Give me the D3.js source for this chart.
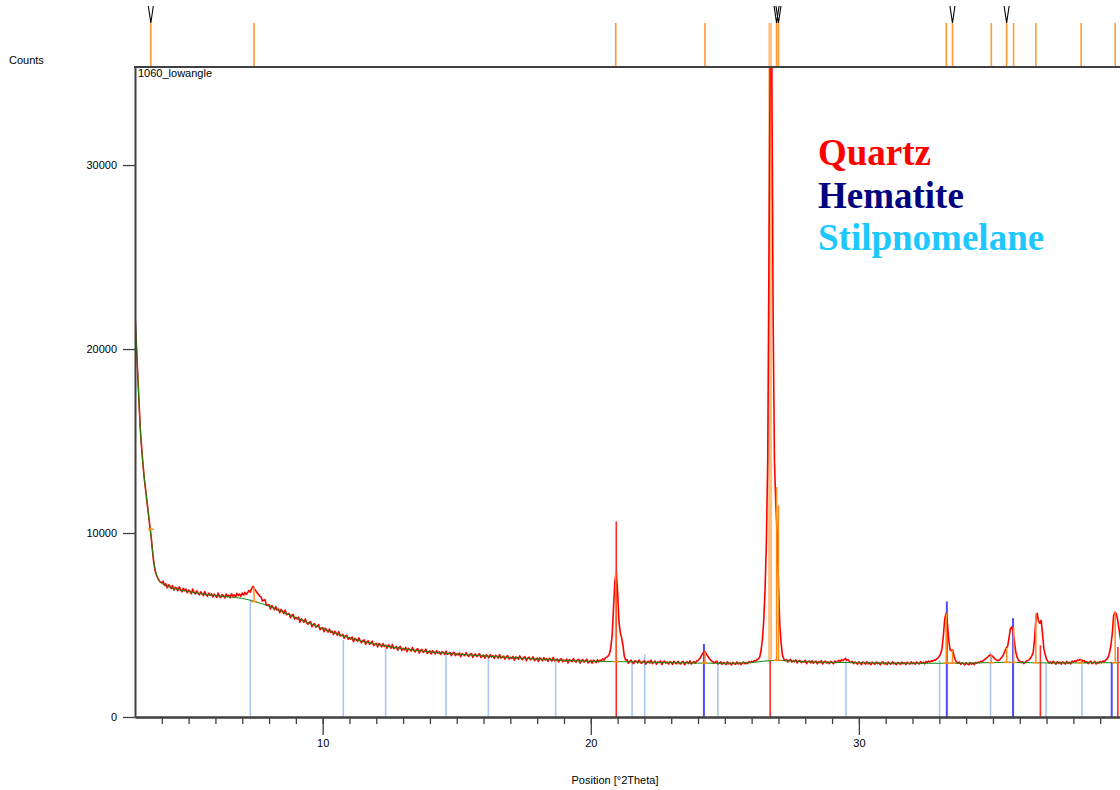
<!DOCTYPE html>
<html>
<head>
<meta charset="utf-8">
<script src="https://cdnjs.cloudflare.com/ajax/libs/d3/7.8.5/d3.min.js"></script>
<style>
html, body { margin: 0; padding: 0; background: #fff; }
svg { display: block; }
</style>
</head>
<body>
<div id="chart"></div>
<script>
// observed scan [°2Theta, counts]
const obsPattern = [
  [3.00,21900],[3.05,20300],[3.10,18700],[3.15,17100],[3.20,15600],[3.25,14600],[3.30,13700],[3.35,12900],
  [3.40,12300],[3.45,11650],[3.50,11050],[3.55,10400],[3.60,9850],[3.65,9050],[3.70,8400],[3.75,7950],
  [3.80,7720],[3.85,7540],[3.90,7420],[3.95,7330],
  [4.00,7300],[4.05,7380],[4.10,7150],[4.15,7240],[4.20,7020],[4.25,7190],[4.30,7110],[4.35,6980],
  [4.40,7140],[4.45,6900],[4.50,7050],[4.55,7010],[4.60,6860],[4.65,7080],[4.70,6920],[4.75,6800],
  [4.80,6990],[4.85,6870],[4.90,6950],[4.95,6760],[5.00,6900],[5.05,6830],[5.10,6700],[5.15,6950],
  [5.20,6780],[5.25,6690],[5.30,6860],[5.35,6730],[5.40,6640],[5.45,6810],[5.50,6700],[5.55,6600],
  [5.60,6820],[5.65,6660],[5.70,6560],[5.75,6730],[5.80,6620],[5.85,6700],[5.90,6520],[5.95,6680],
  [6.00,6590],[6.05,6500],[6.10,6740],[6.15,6560],[6.20,6490],[6.25,6650],[6.30,6580],[6.35,6470],
  [6.40,6680],[6.45,6540],[6.50,6620],[6.55,6480],[6.60,6700],[6.65,6560],[6.70,6640],[6.75,6520],
  [6.80,6720],[6.85,6600],[6.90,6680],[6.95,6560],[7.00,6740],[7.05,6620],[7.10,6780],[7.15,6660],
  [7.20,6760],[7.25,6880],[7.30,6780],[7.35,6980],[7.40,7100],[7.45,6960],[7.50,6880],[7.55,6760],
  [7.60,6680],[7.65,6560],[7.70,6540],[7.75,6310],[7.80,6340],[7.85,6380],[7.90,6070],[7.95,6090],
  [8.00,6110],[8.05,5870],[8.10,6060],[8.15,5960],[8.20,5830],[8.25,6005],[8.30,5810],[8.35,5870],
  [8.40,5670],[8.45,5850],[8.50,5750],[8.55,5610],[8.60,5815],[8.65,5565],[8.70,5580],[8.75,5630],
  [8.80,5400],[8.85,5535],[8.90,5575],[8.95,5330],[9.00,5420],[9.05,5320],[9.10,5430],[9.15,5150],
  [9.20,5340],[9.25,5250],[9.30,5150],[9.35,5330],[9.40,5140],[9.45,5040],[9.50,5150],[9.55,5170],
  [9.60,4900],[9.65,5040],[9.70,5070],[9.75,4880],[9.80,4940],[9.85,5020],[9.90,4750],[9.95,4800],
  [10.00,4860],[10.05,4630],[10.10,4830],[10.15,4730],[10.20,4610],[10.25,4780],[10.30,4600],[10.35,4670],
  [10.40,4480],[10.45,4660],[10.50,4570],[10.55,4440],[10.60,4640],[10.65,4410],[10.70,4430],[10.75,4490],
  [10.80,4280],[10.85,4410],[10.90,4450],[10.95,4220],[11.00,4320],[11.05,4230],[11.10,4350],[11.15,4090],
  [11.20,4280],[11.25,4205],[11.30,4120],[11.35,4300],[11.40,4130],[11.45,4040],[11.50,4160],[11.55,4190],
  [11.60,3950],[11.65,4090],[11.70,4135],[11.75,3960],[11.80,4030],[11.85,4120],[11.90,3880],[11.95,3940],
  [12.00,4010],[12.05,3810],[12.10,4000],[12.15,3920],[12.20,3810],[12.25,3995],[12.30,3830],[12.35,3910],
  [12.40,3735],[12.45,3920],[12.50,3850],[12.55,3730],[12.60,3940],[12.65,3725],[12.70,3765],[12.75,3835],
  [12.80,3635],[12.85,3785],[12.90,3830],[12.95,3620],[13.00,3730],[13.05,3650],[13.10,3780],[13.15,3545],
  [13.20,3735],[13.25,3665],[13.30,3585],[13.35,3775],[13.40,3620],[13.45,3540],[13.50,3670],[13.55,3710],
  [13.60,3475],[13.65,3625],[13.70,3680],[13.75,3510],[13.80,3590],[13.85,3685],[13.90,3455],[13.95,3520],
  [14.00,3600],[14.05,3425],[14.10,3595],[14.15,3530],[14.20,3435],[14.25,3600],[14.30,3465],[14.35,3540],
  [14.40,3395],[14.45,3560],[14.50,3500],[14.55,3400],[14.60,3585],[14.65,3410],[14.70,3445],[14.75,3510],
  [14.80,3330],[14.85,3470],[14.90,3520],[14.95,3340],[15.00,3435],[15.05,3370],[15.10,3485],[15.15,3275],
  [15.20,3450],[15.25,3395],[15.30,3330],[15.35,3505],[15.40,3365],[15.45,3300],[15.50,3415],[15.55,3450],
  [15.60,3240],[15.65,3380],[15.70,3425],[15.75,3285],[15.80,3355],[15.85,3445],[15.90,3235],[15.95,3300],
  [16.00,3370],[16.05,3195],[16.10,3380],[16.15,3315],[16.20,3225],[16.25,3390],[16.30,3260],[16.35,3335],
  [16.40,3190],[16.45,3355],[16.50,3300],[16.55,3200],[16.60,3395],[16.65,3210],[16.70,3245],[16.75,3315],
  [16.80,3145],[16.85,3280],[16.90,3330],[16.95,3150],[17.00,3245],[17.05,3180],[17.10,3295],[17.15,3085],
  [17.20,3265],[17.25,3210],[17.30,3145],[17.35,3320],[17.40,3185],[17.45,3120],[17.50,3235],[17.55,3270],
  [17.60,3060],[17.65,3205],[17.70,3250],[17.75,3110],[17.80,3180],[17.85,3270],[17.90,3065],[17.95,3130],
  [18.00,3200],[18.05,3025],[18.10,3215],[18.15,3150],[18.20,3060],[18.25,3225],[18.30,3095],[18.35,3170],
  [18.40,3025],[18.45,3195],[18.50,3140],[18.55,3040],[18.60,3240],[18.65,3055],[18.70,3090],[18.75,3155],
  [18.80,2990],[18.85,3125],[18.90,3175],[18.95,3000],[19.00,3095],[19.05,3030],[19.10,3150],[19.15,2940],
  [19.20,3120],[19.25,3065],[19.30,3005],[19.35,3180],[19.40,3045],[19.45,2980],[19.50,3100],[19.55,3135],
  [19.60,2930],[19.65,3070],[19.70,3120],[19.75,2980],[19.80,3055],[19.85,3145],[19.90,2940],[19.95,3010],
  [20.00,3080],[20.05,2920],[20.10,3095],[20.15,3035],[20.20,2950],[20.25,3115],[20.30,3000],[20.35,3085],
  [20.40,3080],[20.45,3160],[20.50,3090],[20.55,3230],[20.60,3250],[20.65,3320],[20.70,3450],[20.75,3800],
  [20.80,4500],[20.85,6000],[20.90,7400],[20.95,7900],[21.00,6800],[21.05,5200],[21.10,4600],[21.15,4300],
  [21.20,3900],[21.25,3300],[21.30,3100],[21.35,3120],[21.40,2925],[21.45,3015],[21.50,3090],[21.55,2965],
  [21.60,2905],[21.65,3065],[21.70,3020],[21.75,2940],[21.80,3100],[21.85,2965],[21.90,2920],[21.95,3020],
  [22.00,3060],[22.05,2870],[22.10,2990],[22.15,3030],[22.20,2930],[22.25,3090],[22.30,2900],[22.35,2970],
  [22.40,3040],[22.45,2870],[22.50,3000],[22.55,2955],[22.60,3050],[22.65,2850],[22.70,2990],[22.75,3040],
  [22.80,2930],[22.85,2990],[22.90,2880],[22.95,3010],[23.00,2975],[23.05,2860],[23.10,3035],[23.15,2950],
  [23.20,2890],[23.25,3030],[23.30,2920],[23.35,2880],[23.40,2990],[23.45,3020],[23.50,2840],[23.55,2960],
  [23.60,3000],[23.65,2900],[23.70,3050],[23.75,2880],[23.80,2960],[23.85,3010],[23.90,2930],[23.95,3040],
  [24.00,3080],[24.05,3150],[24.10,3260],[24.15,3400],[24.20,3500],[24.25,3560],[24.30,3460],[24.35,3330],
  [24.40,3220],[24.45,3130],[24.50,3050],[24.55,3010],[24.60,2930],[24.65,2990],[24.70,3040],[24.75,2880],
  [24.80,2950],[24.85,3000],[24.90,2860],[24.95,2960],[25.00,2920],[25.05,2850],[25.10,3010],[25.15,2890],
  [25.20,2940],[25.25,2830],[25.30,2970],[25.35,2900],[25.40,2860],[25.45,2990],[25.50,2880],[25.55,2950],
  [25.60,2850],[25.65,2930],[25.70,2990],[25.75,2890],[25.80,2960],[25.85,2900],[25.90,3010],[25.95,2950],
  [26.00,3020],[26.05,2980],[26.10,3070],[26.15,3040],[26.20,3110],[26.25,3160],[26.30,3250],[26.35,3600],
  [26.40,4200],[26.45,5200],[26.50,6900],[26.55,9500],[26.60,14000],[26.65,26000],[26.70,38000],[26.75,36000],
  [26.80,22000],[26.85,14000],[26.90,11600],[26.95,10000],[27.00,7200],[27.05,5000],[27.10,4000],[27.15,3350],
  [27.20,3150],[27.25,3060],[27.30,3120],[27.35,2990],[27.40,3080],[27.45,3130],[27.50,2980],[27.55,3060],
  [27.60,3010],[27.65,3110],[27.70,2940],[27.75,3050],[27.80,3080],[27.85,2950],[27.90,3020],[27.95,2980],
  [28.00,3090],[28.05,2900],[28.10,3010],[28.15,3050],[28.20,2940],[28.25,3060],[28.30,2920],[28.35,2990],
  [28.40,3040],[28.45,2890],[28.50,3000],[28.55,2960],[28.60,3060],[28.65,2880],[28.70,2990],[28.75,3040],
  [28.80,2930],[28.85,2990],[28.90,2900],[28.95,3020],[29.00,2980],[29.05,2890],[29.10,3040],[29.15,2970],
  [29.20,3010],[29.25,3080],[29.30,3020],[29.35,3110],[29.40,3060],[29.45,3140],[29.50,3170],[29.55,3080],
  [29.60,3120],[29.65,3010],[29.70,2960],[29.75,3030],[29.80,2900],[29.85,2990],[29.90,2940],[29.95,2870],
  [30.00,3000],[30.05,2920],[30.10,2850],[30.15,2990],[30.20,2940],[30.25,2870],[30.30,3010],[30.35,2890],
  [30.40,2950],[30.45,2840],[30.50,2980],[30.55,2910],[30.60,2860],[30.65,2990],[30.70,2900],[30.75,2950],
  [30.80,2830],[30.85,2960],[30.90,3000],[30.95,2880],[31.00,2940],[31.05,2850],[31.10,2990],[31.15,2910],
  [31.20,2870],[31.25,3000],[31.30,2890],[31.35,2940],[31.40,2840],[31.45,2970],[31.50,2930],[31.55,2860],
  [31.60,2990],[31.65,2900],[31.70,2950],[31.75,2850],[31.80,2980],[31.85,2920],[31.90,2870],[31.95,3000],
  [32.00,2900],[32.05,2960],[32.10,2860],[32.15,2990],[32.20,2930],[32.25,2880],[32.30,3010],[32.35,2920],
  [32.40,2970],[32.45,2890],[32.50,3020],[32.55,2960],[32.60,3040],[32.65,2990],[32.70,3060],[32.75,3030],
  [32.80,3100],[32.85,3080],[32.90,3160],[32.95,3220],[33.00,3300],[33.05,3450],[33.10,3700],[33.15,4400],
  [33.20,5300],[33.25,5640],[33.30,5100],[33.35,4200],[33.40,3650],[33.45,3600],[33.50,3650],[33.55,3300],
  [33.60,3080],[33.65,2980],[33.70,2920],[33.75,2980],[33.80,2860],[33.85,2950],[33.90,2900],[33.95,2830],
  [34.00,2950],[34.05,2880],[34.10,2840],[34.15,2960],[34.20,2870],[34.25,2930],[34.30,2850],[34.35,2970],
  [34.40,2920],[34.45,2990],[34.50,2950],[34.55,3030],[34.60,3000],[34.65,3080],[34.70,3130],[34.75,3200],
  [34.80,3260],[34.85,3330],[34.90,3370],[34.95,3340],[35.00,3280],[35.05,3200],[35.10,3130],[35.15,3080],
  [35.20,3060],[35.25,3110],[35.30,3190],[35.35,3280],[35.40,3420],[35.45,3600],[35.50,3750],[35.55,3850],
  [35.60,4300],[35.65,4800],[35.70,4900],[35.75,4700],[35.80,4100],[35.85,3550],[35.90,3250],[35.95,3100],
  [36.00,3020],[36.05,2950],[36.10,3010],[36.15,2900],[36.20,2980],[36.25,3040],[36.30,3080],[36.35,3120],
  [36.40,3200],[36.45,3320],[36.50,3500],[36.55,4200],[36.60,5300],[36.65,5640],[36.70,5200],[36.75,5100],
  [36.80,5250],[36.85,4500],[36.90,3700],[36.95,3400],[37.00,3150],[37.05,3020],[37.10,2930],[37.15,3000],
  [37.20,2900],[37.25,3030],[37.30,2960],[37.35,2870],[37.40,3010],[37.45,2920],[37.50,2980],[37.55,2870],
  [37.60,3000],[37.65,2940],[37.70,2880],[37.75,3020],[37.80,2920],[37.85,2980],[37.90,2890],[37.95,3040],
  [38.00,2980],[38.05,3060],[38.10,3020],[38.15,3100],[38.20,3080],[38.25,3130],[38.30,3110],[38.35,3040],
  [38.40,3070],[38.45,2960],[38.50,3010],[38.55,2900],[38.60,2990],[38.65,3030],[38.70,2900],[38.75,2960],
  [38.80,3020],[38.85,2880],[38.90,2980],[38.95,2930],[39.00,3010],[39.05,2950],[39.10,3040],[39.15,3010],
  [39.20,3080],[39.25,3150],[39.30,3260],[39.35,3500],[39.40,3900],[39.45,4500],[39.50,5500],[39.55,5700],
  [39.60,5600],[39.65,5300],[39.70,4800],[39.75,4300],[39.80,3900],[39.85,3600],[39.90,3400],[40.00,3200]
];

// fitted background
const backgroundCurve = [
  [3.0,22000],[3.1,18700],[3.2,15600],[3.3,13700],[3.4,12300],[3.5,11050],[3.6,9800],[3.7,8450],
  [3.8,7750],[3.9,7420],[4.0,7270],[4.25,7080],[4.5,6960],[5.0,6820],[5.5,6690],[6.0,6600],[6.5,6530],
  [7.0,6450],[7.5,6260],[8.0,6020],[8.5,5720],[9.0,5400],[9.5,5100],[10.0,4800],[10.5,4540],[11.0,4300],
  [11.5,4110],[12.0,3950],[12.5,3820],[13.0,3710],[14.0,3540],[15.0,3420],[16.0,3320],[17.0,3230],
  [18.0,3150],[19.0,3080],[20.0,3030],[21.0,3010],[22.0,2980],[23.0,2950],[24.0,2930],[25.0,2920],
  [26.0,2960],[26.5,3040],[27.0,3080],[27.5,3040],[28.0,3000],[29.0,2970],[30.0,2950],[31.0,2930],
  [32.0,2920],[33.0,2920],[34.0,2930],[35.0,2960],[35.5,2975],[36.0,2960],[37.0,2940],[38.0,2940],
  [39.0,2950],[40.0,2950]
];

// peak list
const peakPositions = [3.59, 7.44, 20.93, 24.26, 26.69, 26.93, 27.00, 33.26, 33.49, 34.94, 35.51, 35.77, 36.60, 38.29, 39.56];
const peakTops      = [10300, 7050, 7900, 3550, 36000, 12500, 11500, 5640, 3650, 3370, 3750, 4900, 5640, 3120, 5700];
const peakBases     = [10200, 6270, 3010, 2930, 3050, 3080, 3080, 2920, 2920, 2950, 2970, 2970, 2955, 2940, 2950];
const peakMarked    = [true, false, false, false, false, true, true, false, true, false, true, false, false, false, false];

// reference patterns [°2Theta, counts]
const quartzSticks = [[20.95, 10630], [26.69, 50000], [36.77, 3900], [39.66, 3800]];
const hematiteSticks = [[24.22, 3974], [33.28, 6276], [35.75, 5373], [39.43, 3000]];
const stilpnomelaneSticks = [
  [7.30, 6400], [10.77, 4190], [12.35, 3740], [14.60, 3470], [16.18, 3320], [18.69, 3140], [21.54, 2940],
  [22.01, 3413], [24.74, 2940], [29.52, 3270], [33.01, 3100], [34.91, 3555], [36.98, 2940], [38.32, 3010]
];

const xMajorTicks = [10, 20, 30];
const xMinorTicks = d3.range(4, 40);
const yTicks = [0, 10000, 20000, 30000];
const legendNames = ["Quartz", "Hematite", "Stilpnomelane"];
const legendColors = ["#ff0000", "#000080", "#1ec8ff"];

const width = 1120, height = 790;
const plot = {left: 135, top: 67, bottom: 717, right: 1127};
const axisColor = "#404040";
const mainPeak = 4;

const x = d3.scaleLinear().domain([3, 40]).range([plot.left, plot.right]);
const y = d3.scaleLinear().domain([0, 35330]).range([plot.bottom, plot.top]);

const svg = d3.select("#chart").append("svg")
    .attr("width", width)
    .attr("height", height)
    .style("font-family", "'Liberation Sans', Arial, sans-serif");

svg.append("defs").append("clipPath")
    .attr("id", "plotClip")
  .append("rect")
    .attr("x", plot.left)
    .attr("y", plot.top)
    .attr("width", plot.right - plot.left)
    .attr("height", plot.bottom - plot.top);

let g = svg.append("g").attr("clip-path", "url(#plotClip)");

function drawSticks(data, color, w) {
    g.append("g").selectAll("line")
        .data(data)
      .enter().append("line")
        .attr("x1", d => x(d[0]))
        .attr("x2", d => x(d[0]))
        .attr("y1", y(0))
        .attr("y2", d => y(d[1]))
        .style("stroke", color)
        .style("stroke-width", w);
}
drawSticks(stilpnomelaneSticks, "#a9c7f2", 1.6);
drawSticks(hematiteSticks, "#4b4bff", 2);
drawSticks(quartzSticks, "#ff2a2a", 1.6);

let peaks = peakPositions.map((p, i) => ({pos: p, top: peakTops[i], base: peakBases[i], i: i}));

// wide marker of the main reflection sits under the scan
g.append("line")
    .attr("x1", x(peaks[mainPeak].pos))
    .attr("x2", x(peaks[mainPeak].pos))
    .attr("y1", y(peaks[mainPeak].base))
    .attr("y2", y(peaks[mainPeak].top))
    .style("stroke", "#ffc080")
    .style("stroke-width", 4);

let line = d3.line().x(d => x(d[0])).y(d => y(d[1]));

g.append("path")
    .datum(obsPattern)
    .attr("d", line)
    .style("fill", "none")
    .style("stroke", "#ff0000")
    .style("stroke-width", 1.6)
    .style("stroke-linejoin", "round");

g.append("path")
    .datum(backgroundCurve)
    .attr("d", line.curve(d3.curveMonotoneX))
    .style("fill", "none")
    .style("stroke", "#138a13")
    .style("stroke-width", 1);

// other peak markers inside the plot
let markers = g.append("g").selectAll("g")
    .data(peaks.filter(d => d.i !== mainPeak))
  .enter().append("g");

markers.append("line")
    .attr("x1", d => x(d.pos))
    .attr("x2", d => x(d.pos))
    .attr("y1", d => y(d.base))
    .attr("y2", d => y(d.top))
    .style("stroke", "#ff8c1a")
    .style("stroke-width", 1.5);

markers.append("line")
    .attr("x1", d => x(d.pos) - 3)
    .attr("x2", d => x(d.pos) + 3)
    .attr("y1", d => y(d.base))
    .attr("y2", d => y(d.base))
    .style("stroke", "#ff8c1a")
    .style("stroke-width", 1.5);

// peak list strip above the plot
let strip = svg.append("g");
strip.selectAll("line")
    .data(peakPositions)
  .enter().append("line")
    .attr("x1", d => x(d))
    .attr("x2", d => x(d))
    .attr("y1", 23)
    .attr("y2", plot.top)
    .style("stroke", (d, i) => i === mainPeak ? "#ffc080" : "#ff9a33")
    .style("stroke-width", (d, i) => i === mainPeak ? 3.5 : 1.6);

strip.selectAll("path")
    .data(peakPositions.filter((d, i) => peakMarked[i]))
  .enter().append("path")
    .attr("d", d => "M" + (x(d) - 2.5) + ",6L" + x(d) + ",23L" + (x(d) + 2.5) + ",6")
    .style("fill", "none")
    .style("stroke", "#000")
    .style("stroke-width", 1.1);

// axes
let xMinor = svg.append("g")
    .attr("transform", "translate(0," + plot.bottom + ")")
    .call(d3.axisBottom(x).tickValues(xMinorTicks).tickSize(7).tickSizeOuter(0).tickFormat(""));
let xMajor = svg.append("g")
    .attr("transform", "translate(0," + plot.bottom + ")")
    .call(d3.axisBottom(x).tickValues(xMajorTicks).tickSize(18).tickSizeOuter(0).tickPadding(4));
let yAxis = svg.append("g")
    .attr("transform", "translate(" + plot.left + ",0)")
    .call(d3.axisLeft(y).tickValues(yTicks).tickSize(12).tickSizeOuter(0).tickPadding(6).tickFormat(d3.format("d")));

[xMinor, xMajor, yAxis].forEach(a => {
    a.select(".domain").style("stroke", axisColor).style("stroke-width", 2);
    a.selectAll(".tick line").style("stroke", axisColor).style("stroke-width", 1.3);
    a.selectAll(".tick text")
        .style("font-family", "'Liberation Sans', Arial, sans-serif")
        .style("font-size", "11px")
        .style("fill", "#000");
});

svg.append("line")
    .attr("x1", plot.left - 1)
    .attr("x2", width)
    .attr("y1", plot.top)
    .attr("y2", plot.top)
    .style("stroke", axisColor)
    .style("stroke-width", 2);

svg.append("text")
    .attr("x", 9)
    .attr("y", 64)
    .style("font-size", "11px")
    .text("Counts");

svg.append("text")
    .attr("x", 138)
    .attr("y", 77)
    .style("font-size", "11px")
    .text("1060_lowangle");

svg.append("text")
    .attr("x", 615)
    .attr("y", 784)
    .attr("text-anchor", "middle")
    .style("font-size", "11px")
    .text("Position [°2Theta]");

svg.append("g").selectAll("text")
    .data(legendNames)
  .enter().append("text")
    .attr("x", 818)
    .attr("y", (d, i) => 165 + i * 42.5)
    .style("font-family", "'Liberation Serif', 'Times New Roman', serif")
    .style("font-weight", "bold")
    .style("font-size", "37px")
    .style("fill", (d, i) => legendColors[i])
    .text(d => d);
</script>
</body>
</html>
